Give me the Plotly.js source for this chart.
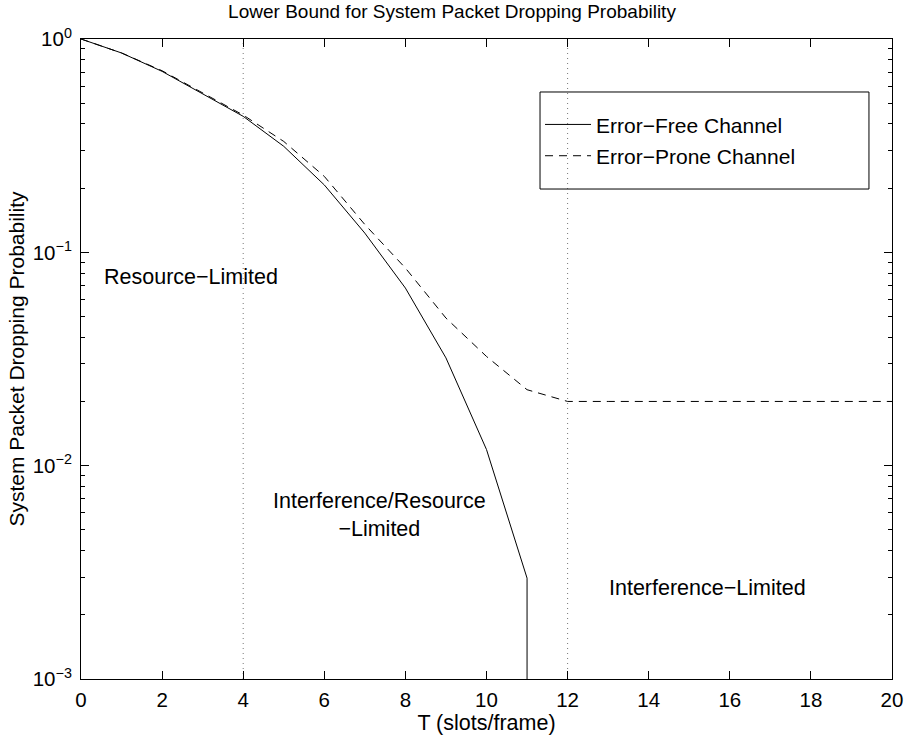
<!DOCTYPE html>
<html>
<head>
<meta charset="utf-8">
<script src="https://cdn.plot.ly/plotly-3.0.1.min.js"></script>
<style>html,body{margin:0;padding:0;background:#fff;}</style>
</head>
<body>
<div id="chart" style="width:904px;height:738px;"></div>
<script>
// Error-free channel
var T_free = [0, 1, 2, 3, 4, 5, 6, 7, 8, 9, 10, 11, 11];
var P_free = [1.0, 0.86, 0.705, 0.554, 0.434, 0.314, 0.207, 0.123, 0.068, 0.032, 0.0119, 0.00297, 0.0001];
// Error-prone channel
var T_prone = [0, 1, 2, 3, 4, 5, 6, 7, 8, 9, 10, 11, 12, 13, 14, 15, 16, 17, 18, 19, 20];
var P_prone = [1.0, 0.86, 0.71, 0.56, 0.44, 0.331, 0.227, 0.135, 0.0844, 0.0492, 0.0325, 0.0227, 0.0200, 0.02, 0.02, 0.02, 0.02, 0.02, 0.02, 0.02, 0.02];
var seriesNames = ['Error\u2212Free Channel', 'Error\u2212Prone Channel'];
var yTickVals = [1, 0.1, 0.01, 0.001];
var yTickText = ['10<sup>0</sup>', '10<sup>\u22121</sup>', '10<sup>\u22122</sup>', '10<sup>\u22123</sup>'];
var regionLines = [4, 12];

var FONT = 'Liberation Sans, Arial, sans-serif';

var traces = [
  {x: T_free, y: P_free, name: seriesNames[0], mode: 'lines', legendgroup: 'a',
   line: {color: '#000', width: 1}},
  {x: T_prone, y: P_prone, name: seriesNames[1], mode: 'lines', legendgroup: 'b',
   line: {color: '#000', width: 1, dash: '8px,6px'}}
];

var shapes = regionLines.map(function (v) {
  return {type: 'line', xref: 'x', yref: 'paper', x0: v, x1: v, y0: 0, y1: 1,
          line: {color: '#777', width: 1, dash: '1px,4px'}, layer: 'below'};
});
// legend frame
shapes.push({type: 'rect', xref: 'paper', yref: 'paper', x0: 0.566, x1: 0.9716, y0: 0.7656, y1: 0.9172,
             line: {color: '#000', width: 1}, fillcolor: 'rgba(0,0,0,0)', layer: 'above'});

var layout = {
  width: 904, height: 738,
  margin: {l: 81, r: 12, t: 39, b: 59, pad: 0},
  paper_bgcolor: '#fff', plot_bgcolor: '#fff',
  font: {family: FONT, color: '#000', size: 20},
  title: {text: 'Lower Bound for System Packet Dropping Probability',
          font: {family: FONT, size: 19, color: '#000'},
          x: 0.5, xref: 'container', y: 0.984, yref: 'container', yanchor: 'middle'},
  showlegend: true,
  legend: {x: 0.566, y: 0.898, xanchor: 'left', yanchor: 'top',
           bgcolor: 'rgba(0,0,0,0)', borderwidth: 0,
           traceorder: 'grouped', tracegroupgap: 1, itemwidth: 46,
           font: {family: FONT, size: 21, color: '#000'}},
  xaxis: {range: [0, 20], tickmode: 'linear', tick0: 0, dtick: 2,
          ticks: 'inside', ticklen: 8, tickcolor: '#000', tickwidth: 1,
          showline: true, linecolor: '#000', linewidth: 1, mirror: 'allticks',
          showgrid: false, zeroline: false, ticklabelstandoff: 2,
          tickfont: {family: FONT, size: 20.5, color: '#000'},
          title: {text: 'T (slots/frame)', font: {family: FONT, size: 21.5, color: '#000'}, standoff: 0}},
  yaxis: {type: 'log', range: [-3, 0], tickmode: 'array', tickvals: yTickVals, ticktext: yTickText,
          ticks: 'inside', ticklen: 8, tickcolor: '#000', tickwidth: 1,
          minor: {dtick: 'D1', ticks: 'inside', ticklen: 4, tickcolor: '#000', showgrid: false},
          showline: true, linecolor: '#000', linewidth: 1, mirror: 'allticks',
          showgrid: false, zeroline: false, ticklabelstandoff: 4,
          tickfont: {family: FONT, size: 20.5, color: '#000'},
          title: {text: 'System Packet Dropping Probability', font: {family: FONT, size: 21, color: '#000'}, standoff: 2}},
  shapes: shapes,
  annotations: [
    {text: 'Resource\u2212Limited', x: 0.53, y: Math.log10(0.0769), xref: 'x', yref: 'y',
     xanchor: 'left', yanchor: 'middle', showarrow: false, font: {family: FONT, size: 21.5, color: '#000'}},
    {text: 'Interference/Resource<br>\u2212Limited', x: 7.35, y: -2.23, xref: 'x', yref: 'y',
     xanchor: 'center', yanchor: 'middle', align: 'center', showarrow: false,
     font: {family: FONT, size: 21.5, color: '#000'}},
    {text: 'Interference\u2212Limited', x: 15.45, y: -2.574, xref: 'x', yref: 'y',
     xanchor: 'center', yanchor: 'middle', showarrow: false, font: {family: FONT, size: 21.5, color: '#000'}}
  ]
};

Plotly.newPlot('chart', traces, layout, {staticPlot: true, displayModeBar: false});
</script>
</body>
</html>
